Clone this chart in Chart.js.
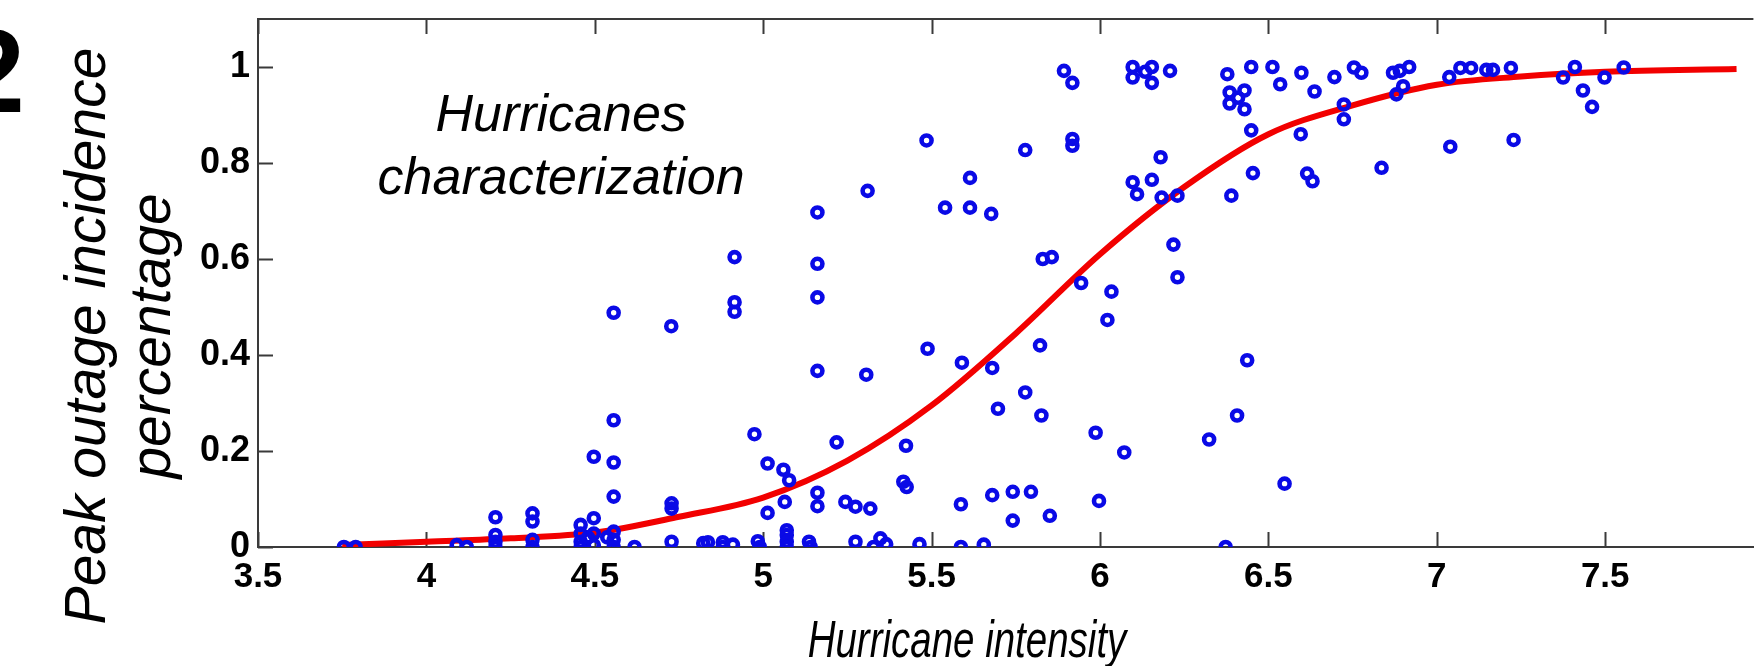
<!DOCTYPE html>
<html>
<head>
<meta charset="utf-8">
<title>Hurricanes characterization</title>
<script src="https://cdn.jsdelivr.net/npm/chart.js@4.4.1/dist/chart.umd.min.js"></script>
<style>
  html, body { margin: 0; padding: 0; background: #fff; }
  #wrap { width: 1763px; height: 666px; position: relative; }
</style>
</head>
<body>
<div id="wrap"><canvas id="outageChart"></canvas></div>
<script>
// observed hurricanes: intensity vs peak outage incidence
const intensity = [
  3.755, 3.79, 4.09, 4.12, 4.205, 4.205, 4.205, 4.205, 4.315, 4.315, 4.315, 4.315,
  4.458, 4.458, 4.458, 4.458, 4.48, 4.497, 4.497, 4.497, 4.497, 4.537,
  4.556, 4.556, 4.556, 4.556, 4.556, 4.556, 4.556, 4.618,
  4.727, 4.728, 4.728, 4.728, 4.822, 4.836, 4.88, 4.88, 4.91,
  4.915, 4.915, 4.915, 4.974, 4.984, 4.99, 5.013, 5.013, 5.06, 5.077, 5.064,
  5.07, 5.07, 5.07, 5.07, 5.136, 5.141,
  5.161, 5.161, 5.161, 5.161, 5.161, 5.161, 5.218, 5.244, 5.274, 5.318, 5.274,
  5.306, 5.31, 5.328, 5.348, 5.365, 5.416, 5.426, 5.424, 5.464, 5.485, 5.488,
  5.54, 5.587, 5.587, 5.59, 5.614, 5.614, 5.655, 5.677, 5.68, 5.68, 5.697,
  5.741, 5.741, 5.778, 5.778, 5.795, 5.822, 5.826, 5.83, 5.857, 5.851,
  5.893, 5.918, 5.918, 5.918, 5.944, 5.987, 5.997, 6.022, 6.034, 6.072,
  6.097, 6.097, 6.134, 6.154, 6.154, 6.208, 6.097, 6.11, 6.154, 6.18, 6.183, 6.23,
  6.218, 6.23, 6.324, 6.373, 6.378, 6.385, 6.385, 6.41, 6.429, 6.429, 6.39,
  6.407, 6.437, 6.449, 6.449, 6.454, 6.512, 6.535, 6.548, 6.598, 6.596,
  6.615, 6.631, 6.637, 6.696, 6.724, 6.724, 6.754, 6.776, 6.836,
  6.87, 6.89, 6.918, 6.9, 6.88, 7.037, 7.04, 7.07, 7.102, 7.147, 7.167, 7.22, 7.228,
  7.375, 7.41, 7.434, 7.461, 7.498, 7.555
];
const outage = [
  0, 0, 0.004, 0, 0.062, 0.025, 0.011, 0, 0.07, 0.053, 0.015, 0,
  0.046, 0.028, 0.011, 0, 0.02, 0.188, 0.06, 0.028, 0.004, 0.02,
  0.488, 0.264, 0.176, 0.105, 0.032, 0.015, 0, 0,
  0.46, 0.091, 0.08, 0.011, 0.008, 0.01, 0.01, 0, 0.005,
  0.604, 0.51, 0.49, 0.235, 0.012, 0, 0.174, 0.071, 0.161, 0.139, 0.094,
  0.035, 0.025, 0.011, 0, 0.011, 0,
  0.697, 0.59, 0.52, 0.367, 0.113, 0.085, 0.218, 0.094, 0.084, 0.08, 0.011,
  0.359, 0.742, 0, 0.018, 0.006, 0.136, 0.125, 0.211, 0.006, 0.847, 0.413,
  0.707, 0.089, 0, 0.384, 0.769, 0.707, 0.005, 0.694, 0.373, 0.108, 0.288,
  0.115, 0.055, 0.827, 0.322, 0.115, 0.42, 0.274, 0.6, 0.604, 0.065,
  0.992, 0.967, 0.85, 0.836, 0.55, 0.238, 0.096, 0.473, 0.532, 0.197,
  1.0, 0.978, 0.99, 1.0, 0.967, 0.992, 0.76, 0.735, 0.765, 0.812, 0.728, 0.732,
  0.63, 0.562, 0.224, 0, 0.985, 0.947, 0.924, 0.936, 0.951, 0.912, 0.732,
  0.274, 0.389, 1.0, 0.868, 0.779, 1.0, 0.964, 0.132, 0.988, 0.86,
  0.778, 0.762, 0.949, 0.979, 0.922, 0.891, 0.999, 0.988, 0.79,
  0.988, 0.992, 1.0, 0.96, 0.943, 0.979, 0.834, 0.998, 0.998, 0.994, 0.994, 0.998, 0.848,
  0.978, 1.0, 0.951, 0.917, 0.978, 0.999
];

// fitted curve
const fitX = [3.75, 4.0, 4.25, 4.5, 4.75, 5.0, 5.25, 5.5, 5.75, 6.0, 6.25, 6.5, 6.75, 7.0, 7.25, 7.5, 7.89];
const fitY = [0.004, 0.011, 0.018, 0.03, 0.063, 0.103, 0.18, 0.295, 0.445, 0.61, 0.75, 0.86, 0.92, 0.963, 0.98, 0.99, 0.996];

const xTitle = 'Hurricane intensity';
const yTitle = ['Peak outage incidence', 'percentage'];
const note = ['Hurricanes', 'characterization'];

const FONT = "'Liberation Sans', Arial, Helvetica, sans-serif";
const fmt = v => String(+Number(v).toFixed(1));

// matlab style box: top line + inward ticks, plus the free texts
const frame = {
    id: 'frame',
    beforeDatasetsDraw(chart) {
        const {ctx, chartArea: a, scales: {x, y}} = chart;
        ctx.save();
        ctx.strokeStyle = '#3a3a3a';
        ctx.lineWidth = 2;
        ctx.beginPath();
        ctx.moveTo(a.left, a.top);
        ctx.lineTo(a.right, a.top);
        x.ticks.forEach(t => {
            const px = Math.round(x.getPixelForValue(t.value)) + 0.5;
            ctx.moveTo(px, a.bottom); ctx.lineTo(px, a.bottom - 15);
            ctx.moveTo(px, a.top); ctx.lineTo(px, a.top + 15);
        });
        y.ticks.forEach(t => {
            const py = Math.round(y.getPixelForValue(t.value)) + 0.5;
            ctx.moveTo(a.left, py); ctx.lineTo(a.left + 15, py);
        });
        ctx.stroke();
        ctx.restore();
    },
    afterDraw(chart) {
        const {ctx, scales: {x, y}} = chart;
        ctx.save();
        ctx.fillStyle = '#000';

        // text inside the plot
        ctx.font = 'italic 52px ' + FONT;
        ctx.textAlign = 'center';
        ctx.textBaseline = 'alphabetic';
        const nx = x.getPixelForValue(4.4);
        ctx.fillText(note[0], nx, y.getPixelForValue(0.867));
        ctx.fillText(note[1], nx, y.getPixelForValue(0.736));

        // x title (condensed like the original)
        ctx.save();
        ctx.font = 'italic 52px ' + FONT;
        ctx.translate(967, 657);
        ctx.scale(0.74, 1);
        ctx.fillText(xTitle, 0, 0);
        ctx.restore();

        // y title, two rotated lines
        ctx.save();
        ctx.font = 'italic 57px ' + FONT;
        ctx.translate(0, 336);
        ctx.rotate(-Math.PI / 2);
        ctx.fillText(yTitle[0], 0, 105);
        ctx.fillText(yTitle[1], 0, 170);
        ctx.restore();

        // cut panel number at the left edge
        ctx.font = 'bold 118px ' + FONT;
        ctx.textAlign = 'right';
        ctx.fillText('2', 25, 112);
        ctx.restore();
    }
};

const ctx = document.getElementById('outageChart').getContext('2d');
new Chart(ctx, {
    type: 'scatter',
    data: {
        datasets: [{
            label: 'Hurricanes',
            data: intensity.map((v, i) => ({x: v, y: outage[i]})),
            pointStyle: 'circle',
            pointRadius: 5,
            borderWidth: 4.6,
            borderColor: '#0a0ae6',
            backgroundColor: 'rgba(0,0,0,0)'
        }, {
            label: 'Fit',
            data: fitX.map((v, i) => ({x: v, y: fitY[i]})),
            showLine: true,
            cubicInterpolationMode: 'monotone',
            borderColor: '#f20000',
            borderWidth: 6,
            pointRadius: 0
        }]
    },
    options: {
        responsive: true,
        maintainAspectRatio: false,
        animation: false,
        devicePixelRatio: 1,
        layout: { padding: { top: 19, right: 0, bottom: 0, left: 0 } },
        plugins: { legend: { display: false }, tooltip: { enabled: false } },
        scales: {
            x: {
                type: 'linear',
                min: 3.5,
                max: 7.94,
                afterFit: s => { s.height = 119; s.paddingLeft = 0; s.paddingRight = 0; },
                grid: { drawOnChartArea: false, drawTicks: false },
                border: { display: true, color: '#3a3a3a', width: 2 },
                ticks: {
                    stepSize: 0.5,
                    includeBounds: false,
                    autoSkip: false,
                    maxRotation: 0,
                    padding: 9,
                    color: '#000',
                    font: { family: FONT, size: 35, weight: 'bold' },
                    callback: fmt
                }
            },
            y: {
                min: 0,
                max: 1.1,
                afterFit: s => { s.width = 258; s.paddingTop = 0; s.paddingBottom = 0; },
                grid: { drawOnChartArea: false, drawTicks: false },
                border: { display: true, color: '#3a3a3a', width: 2 },
                ticks: {
                    stepSize: 0.2,
                    includeBounds: false,
                    padding: 8,
                    color: '#000',
                    font: { family: FONT, size: 36, weight: 'bold' },
                    callback: fmt
                }
            }
        }
    },
    plugins: [frame]
});
</script>
</body>
</html>
